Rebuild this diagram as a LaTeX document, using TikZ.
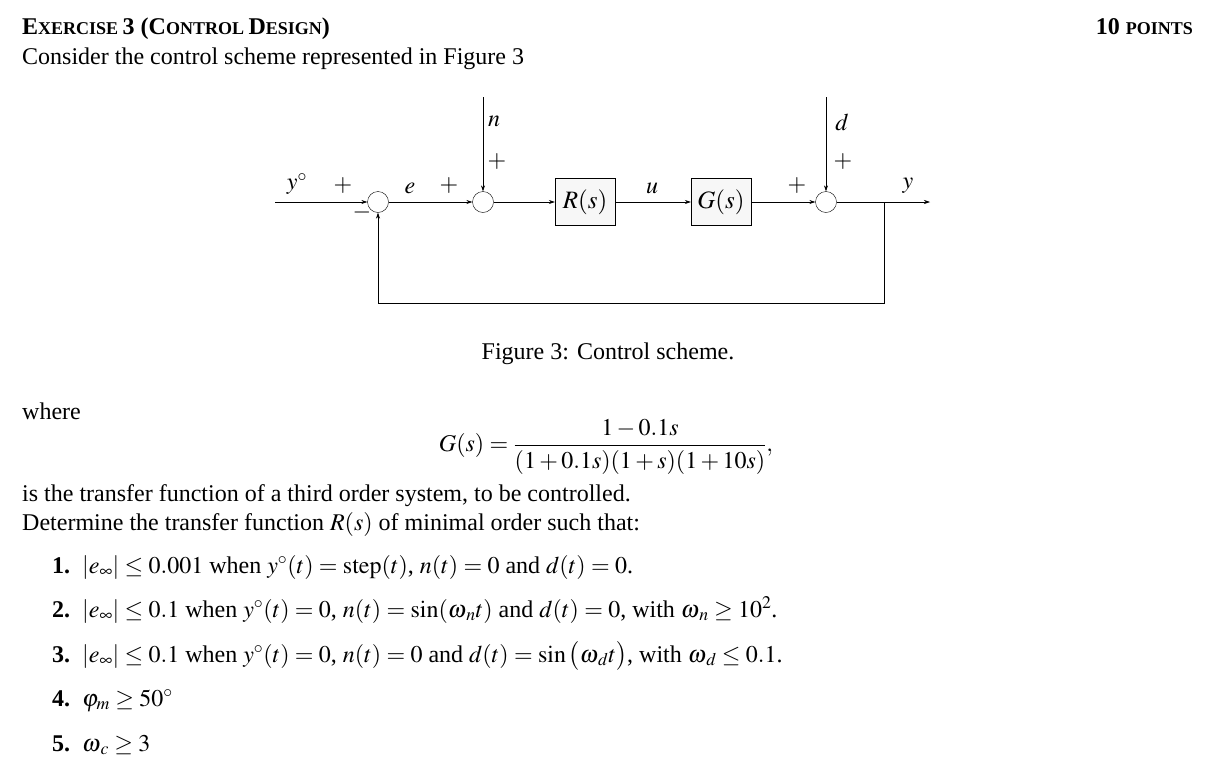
\documentclass[tikz,border=0pt]{standalone}
\usepackage{mathptmx}
\usepackage{fontspec}
\setmainfont{Liberation Serif}
\usetikzlibrary{arrows.meta}
\begin{document}
\begin{tikzpicture}[x=1pt,y=-1pt,
  txt/.style={anchor=base west,inner sep=0pt,font=\fontsize{24}{28}\selectfont},
  lbl/.style={inner sep=0pt,font=\fontsize{24}{28}\selectfont},
  sum/.style={circle,draw,minimum size=21pt,inner sep=0pt},
  blk/.style={draw,fill=gray!6,minimum width=60pt,minimum height=47pt,inner sep=0pt,font=\fontsize{25}{28}\selectfont},
  sig/.style={draw,line width=0.6pt,-{Stealth[length=6pt,width=4pt]}},
  wire/.style={draw,line width=0.6pt}]
\useasboundingbox (0,0) rectangle (1212,766);
% header
\node[txt] (h1) at (22,34) {\textbf{E\fontsize{18}{20}\selectfont XERCISE \fontsize{24}{28}\selectfont 3 (C\fontsize{18}{20}\selectfont ONTROL \fontsize{24}{28}\selectfont D\fontsize{18}{20}\selectfont ESIGN\fontsize{24}{28}\selectfont )}};
\node[txt,anchor=base east] (h2) at (1193,34) {\textbf{10 \fontsize{18}{20}\selectfont POINTS}};
\node[txt] (t1) at (22,64) {Consider the control scheme represented in Figure 3};
% diagram
\node[sum] (s1) at (378,202) {};
\node[sum] (s2) at (483,202) {};
\node[blk] (R) at (585,202) {$R(s)$};
\node[blk] (G) at (721,202) {$G(s)$};
\node[sum] (s3) at (826,202) {};
\coordinate (in) at (275,202);
\coordinate (out) at (930,202);
\coordinate (br) at (884,202);
\coordinate (fb1) at (884,303);
\coordinate (fb2) at (378,303);
\coordinate (nin) at (483,97);
\coordinate (din) at (826,97);
\path[sig] (in) -- (s1);
\path[sig] (s1) -- (s2);
\path[sig] (s2) -- (R);
\path[sig] (R) -- (G);
\path[sig] (G) -- (s3);
\path[sig] (s3) -- (out);
\path[sig] (nin) -- (s2);
\path[sig] (din) -- (s3);
\path[wire] (br) -- (fb1) -- (fb2);
\path[sig] (fb2) -- (s1);
\node[lbl] (ly0) at (297,184) {$y^{\circ}$};
\node[lbl] (p1) at (343,186) {$+$};
\node[lbl] (m1) at (362,212) {$-$};
\node[lbl] (le) at (410,188) {$e$};
\node[lbl] (p2) at (449,186) {$+$};
\node[lbl] (ln) at (494,121) {$n$};
\node[lbl] (p3) at (497,162) {$+$};
\node[lbl] (lu) at (652,188) {$u$};
\node[lbl] (p4) at (797,186) {$+$};
\node[lbl] (ld) at (842,122) {$d$};
\node[lbl] (p5) at (843,162) {$+$};
\node[lbl] (ly) at (908,186) {$y$};
\node[txt,anchor=base] (cap) at (608,359) {Figure 3: Control scheme.};
% text
\node[txt] (w) at (22,419) {where};
\node[txt,anchor=center] (eq) at (606,447) {$\displaystyle G(s)=\frac{1-0.1s}{(1+0.1s)(1+s)(1+10s)},$};
\node[txt] (t2) at (22,501) {is the transfer function of a third order system, to be controlled.};
\node[txt] (t3) at (22,530) {Determine the transfer function $R(s)$ of minimal order such that:};
\node[txt] (i1) at (52,573) {\textbf{1.}\ \ $|e_\infty|\le 0.001$ when $y^{\circ}(t)=\mathrm{step}(t)$, $n(t)=0$ and $d(t)=0$.};
\node[txt] (i2) at (52,617) {\textbf{2.}\ \ $|e_\infty|\le 0.1$ when $y^{\circ}(t)=0$, $n(t)=\sin(\omega_{\,n} t)$ and $d(t)=0$, with $\omega_{\,n}\ge 10^2$.};
\node[txt] (i3) at (52,662) {\textbf{3.}\ \ $|e_\infty|\le 0.1$ when $y^{\circ}(t)=0$, $n(t)=0$ and $d(t)=\sin\big(\omega_{\,d} t\big)$, with $\omega_{\,d}\le 0.1$.};
\node[txt] (i4) at (52,706) {\textbf{4.}\ \ $\varphi_m\ge 50^{\circ}$};
\node[txt] (i5) at (52,751) {\textbf{5.}\ \ $\omega_{\,c}\ge 3$};
\end{tikzpicture}
\end{document}
